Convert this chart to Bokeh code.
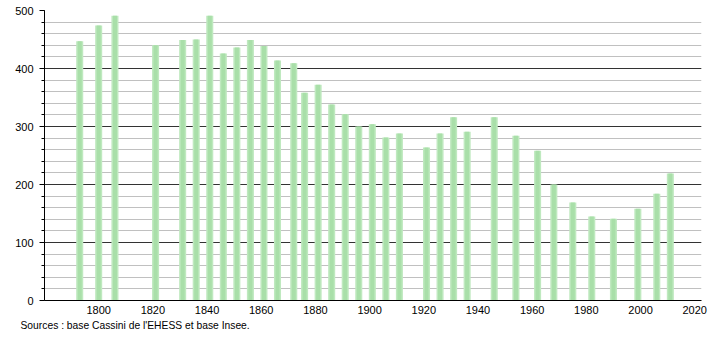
from bokeh.plotting import figure
from bokeh.models import SingleIntervalTicker, FixedTicker, Range1d, Title, ColumnDataSource
from bokeh.embed import file_html
from bokeh.resources import INLINE

years = [1793, 1800, 1806, 1821, 1831, 1836, 1841, 1846, 1851, 1856, 1861, 1866,
         1872, 1876, 1881, 1886, 1891, 1896, 1901, 1906, 1911, 1921, 1926, 1931,
         1936, 1946, 1954, 1962, 1968, 1975, 1982, 1990, 1999, 2006, 2011]
population = [447, 474, 491, 440, 449, 450, 491, 426, 436, 449, 439, 414,
              409, 358, 372, 338, 321, 300, 304, 281, 288, 264, 288, 316,
              291, 316, 284, 258, 200, 169, 145, 141, 158, 184, 219]
x_ticks = [1800, 1820, 1840, 1860, 1880, 1900, 1920, 1940, 1960, 1980, 2000, 2020]
source_text = "Sources : base Cassini de l'EHESS et base Insee."

FONT = "Liberation Sans"

src = ColumnDataSource(dict(x=years, top=population))

p = figure(frame_width=657, frame_height=290, output_backend="svg",
           toolbar_location=None, x_range=Range1d(1780, 2022.5),
           y_range=Range1d(0, 500), min_border_left=44, min_border_right=9,
           min_border_top=10, min_border_bottom=0, background_fill_color="white",
           border_fill_color="white", outline_line_color=None)

p.vbar(x="x", top="top", width=2.6, source=src, fill_color="#bfe9bf", line_color=None)
p.vbar(x="x", top="top", width=1.5, source=src, fill_color="#a9dfa9", line_color=None)

p.xgrid.visible = False
p.ygrid.ticker = SingleIntervalTicker(interval=100, num_minor_ticks=5)
p.ygrid.grid_line_color = "#333333"
p.ygrid.grid_line_width = 1
p.ygrid.minor_grid_line_color = "#c0c0c0"
p.ygrid.minor_grid_line_width = 1
p.ygrid.level = "underlay"

p.yaxis.ticker = SingleIntervalTicker(interval=100, num_minor_ticks=5)
p.yaxis.major_tick_out = 5
p.yaxis.major_tick_in = 0
p.yaxis.minor_tick_out = 3
p.yaxis.minor_tick_in = 0
p.yaxis.axis_line_color = "black"
p.yaxis.major_tick_line_color = "black"
p.yaxis.minor_tick_line_color = "black"
p.yaxis.major_label_text_font = FONT
p.yaxis.major_label_text_font_size = "11px"
p.yaxis.major_label_text_color = "black"
p.yaxis.major_label_standoff = 6

p.xaxis.ticker = FixedTicker(ticks=x_ticks)
p.xaxis.major_tick_out = 0
p.xaxis.major_tick_in = 0
p.xaxis.minor_tick_line_color = None
p.xaxis.axis_line_color = "black"
p.xaxis.major_label_text_font = FONT
p.xaxis.major_label_text_font_size = "11px"
p.xaxis.major_label_text_color = "black"
p.xaxis.major_label_standoff = 5

t = Title(text=source_text, align="left", text_font=FONT, text_font_size="10.3px",
          text_font_style="normal", text_color="black", offset=-24, standoff=2)
p.add_layout(t, "below")

open("out.html", "w").write(file_html(p, INLINE))
